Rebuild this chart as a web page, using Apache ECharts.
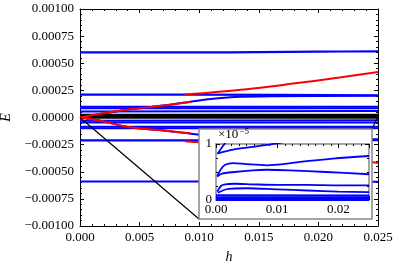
<!DOCTYPE html>
<html><head><meta charset="utf-8">
<script src="https://cdn.jsdelivr.net/npm/echarts@6/dist/echarts.min.js"></script>
<style>html,body{margin:0;padding:0;background:#fff}#c{width:398px;height:265px}</style>
</head><body><div id="c"></div>
<script>
// ---------- main panel data: [h, E in units of 1e-4] ----------
const xTicksMain = [0, 0.005, 0.010, 0.015, 0.020, 0.025];
const yTicksMain = [-10, -7.5, -5, -2.5, 0, 2.5, 5, 7.5, 10];
const bluePos6 = [[0, 6.0], [0.005, 6.0], [0.010, 6.0], [0.015, 6.03], [0.020, 6.07], [0.025, 6.1]];
const blueNeg6 = [[0, -5.9], [0.010, -5.9], [0.025, -5.92]];
const bluePos2 = [[0, 2.1], [0.010, 2.1], [0.025, 2.05]];
const blueNeg2 = [[0, -2.1], [0.010, -2.1], [0.025, -2.08]];
const blueSlantPos = [[0, 0], [0.0014, 0.25], [0.0042, 0.75], [0.007, 1.1], [0.0093, 1.46], [0.011, 1.7], [0.013, 1.88], [0.016, 1.96], [0.025, 2.0]];
const blueSlantNeg = [[0, 0], [0.0014, -0.23], [0.0042, -0.9], [0.007, -1.2], [0.0093, -1.5], [0.011, -1.7], [0.013, -1.85], [0.016, -1.95], [0.025, -2.0]];
const blueFlat1 = [[0, 1.0], [0.025, 1.0]];
const blueFlat2 = [[0, 0.85], [0.025, 0.85]];
const blueFlat3 = [[0, 0.55], [0.025, 0.6]];
const blueFlat4 = [[0, -0.3], [0.025, -0.25]];
const blueFlat5 = [[0, -0.45], [0.025, -0.45]];
const blueFlat6 = [[0, -0.85], [0.025, -0.85]];
const blueFlat7 = [[0, -1.0], [0.025, -1.0]];
const blackBand = [[0, 0.12], [0.025, 0.12]];
const redPosA = [[0, 0], [0.0014, 0.3], [0.0042, 0.75], [0.007, 1.1], [0.0093, 1.46]];
const redPosB = [[0.0088, 2.1], [0.0135, 2.55], [0.0177, 3.1], [0.0219, 3.7], [0.025, 4.2]];
const redNegA = [[0, 0], [0.0014, -0.23], [0.0042, -0.9], [0.007, -1.2], [0.0093, -1.46]];
const redNegB = [[0.0088, -2.2], [0.0135, -2.6], [0.0177, -3.1], [0.0219, -3.7], [0.025, -4.2]];

// ---------- inset data: [h, E in units of 1e-5] ----------
const inC1 = [[0.0002, 0.83], [0.0028, 0.9], [0.0061, 0.95], [0.0087, 0.99], [0.011, 1.03]];
const inC1b = [[0.0003, 0.83], [0.0009, 0.93], [0.0016, 1.03]];
const inC2 = [[0.0002, 0.42], [0.0008, 0.55], [0.0015, 0.63], [0.0028, 0.66], [0.005, 0.64], [0.0083, 0.62], [0.011, 0.64], [0.0137, 0.68], [0.0191, 0.74], [0.025, 0.786]];
const inC3 = [[0.0002, 0.42], [0.001, 0.47], [0.003, 0.5], [0.006, 0.53], [0.0083, 0.54], [0.012, 0.53], [0.018, 0.5], [0.025, 0.46]];
const inC4 = [[0.0002, 0.15], [0.0008, 0.25], [0.0015, 0.28], [0.003, 0.29], [0.006, 0.28], [0.01, 0.27], [0.015, 0.27], [0.02, 0.26], [0.025, 0.26]];
const inC5 = [[0.0003, 0.13], [0.002, 0.2], [0.005, 0.21], [0.01, 0.19], [0.015, 0.17], [0.02, 0.15], [0.025, 0.14]];
const inC6 = [[0, 0.085], [0.025, 0.08]];
const inC7 = [[0, 0.05], [0.025, 0.05]];
const inC8 = [[0, 0.02], [0.025, 0.02]];
const inC9 = [[0, 0.003], [0.025, 0.003]];
const xTicksInset = [0, 0.01, 0.02];
const yTicksInset = [0, 1];

// ---------- layout ----------
const FONT = 'Liberation Serif';
const INSET_BOX = {x: 199, y: 129, w: 173, h: 90};
const BLUE = '#0000ff', RED = '#ff0000';
const MAIN = 0, INSET = 2;

function ln(data, color, width, ai, z) {
  return {type: 'line', data: data, xAxisIndex: ai, yAxisIndex: ai, showSymbol: false, symbol: 'none',
    smooth: 0.3, lineStyle: {color: color, width: width}, z: z, silent: true, animation: false, clip: true};
}
const minus = s => s.replace('-', '\u2212');

const axisCommon = (z) => ({
  axisLine: {show: true, onZero: false, lineStyle: {color: '#000', width: 1}},
  axisTick: {show: true, inside: true, length: 4, lineStyle: {color: '#000', width: 1}},
  minorTick: {show: true, splitNumber: 5, length: 2, lineStyle: {color: '#000', width: 1}},
  splitLine: {show: false}, minorSplitLine: {show: false}, z: z
});

const chart = echarts.init(document.getElementById('c'), null, {renderer: 'canvas'});
const insetGray = '#888';
const opt = {
  animation: false,
  backgroundColor: '#fff',
  grid: [
    {left: 80, top: 9, right: 20, bottom: 39, containLabel: false, outerBoundsMode: 'none'},
    {left: 216, top: 144, width: 153, height: 56, containLabel: false, outerBoundsMode: 'none', z: 5}
  ],
  xAxis: [
    Object.assign(axisCommon(0), {type: 'value', gridIndex: 0, min: 0, max: 0.025, interval: 0.005, position: 'bottom',
      name: 'h', nameLocation: 'middle', nameGap: 24,
      nameTextStyle: {fontFamily: FONT, fontStyle: 'italic', fontSize: 14, color: '#000'},
      axisLabel: {fontFamily: FONT, fontSize: 13, color: '#000', margin: 5,
        formatter: v => xTicksMain.some(t => Math.abs(t - v) < 1e-9) ? v.toFixed(3) : ''}}),
    Object.assign(axisCommon(0), {type: 'value', gridIndex: 0, min: 0, max: 0.025, interval: 0.005, position: 'top',
      axisLabel: {show: false}}),
    Object.assign(axisCommon(6), {type: 'value', gridIndex: 1, min: 0, max: 0.025, interval: 0.01, position: 'bottom',
      axisLine: {show: true, onZero: false, lineStyle: {color: insetGray, width: 1.5}},
      minorTick: {show: true, splitNumber: 8, length: 2, lineStyle: {color: '#000', width: 1}},
      axisLabel: {fontFamily: FONT, fontSize: 13, color: '#000', margin: 3, showMaxLabel: false,
        formatter: v => xTicksInset.some(t => Math.abs(t - v) < 1e-9) ? v.toFixed(2) : ''}}),
    Object.assign(axisCommon(6), {type: 'value', gridIndex: 1, min: 0, max: 0.025, interval: 0.01, position: 'top',
      axisLine: {show: true, onZero: false, lineStyle: {color: insetGray, width: 1.5}},
      minorTick: {show: true, splitNumber: 8, length: 2, lineStyle: {color: '#000', width: 1}},
      axisLabel: {show: false}})
  ],
  yAxis: [
    Object.assign(axisCommon(0), {type: 'value', gridIndex: 0, min: -10, max: 10, interval: 2.5, position: 'left',
      name: 'E', nameLocation: 'middle', nameGap: 66, nameRotate: 90,
      nameTextStyle: {fontFamily: FONT, fontStyle: 'italic', fontSize: 14, color: '#000'},
      axisLabel: {fontFamily: FONT, fontSize: 13, color: '#000', margin: 6,
        formatter: v => yTicksMain.some(t => Math.abs(t - v) < 1e-9) ? minus((v * 1e-4).toFixed(5)) : ''}}),
    Object.assign(axisCommon(0), {type: 'value', gridIndex: 0, min: -10, max: 10, interval: 2.5, position: 'right',
      axisLabel: {show: false}}),
    Object.assign(axisCommon(6), {type: 'value', gridIndex: 1, min: 0, max: 1, interval: 1, position: 'left',
      axisLine: {show: true, onZero: false, lineStyle: {color: insetGray, width: 1.5}},
      minorTick: {show: true, splitNumber: 4, length: 2, lineStyle: {color: '#000', width: 1}},
      axisLabel: {fontFamily: FONT, fontSize: 13, color: '#000', margin: 4,
        formatter: v => yTicksInset.includes(v) ? String(v) : ''}}),
    Object.assign(axisCommon(6), {type: 'value', gridIndex: 1, min: 0, max: 1, interval: 1, position: 'right',
      axisLine: {show: true, onZero: false, lineStyle: {color: insetGray, width: 1.5}},
      minorTick: {show: true, splitNumber: 4, length: 2, lineStyle: {color: '#000', width: 1}},
      axisLabel: {show: false}})
  ],
  series: [
    ln(bluePos6, BLUE, 2.2, MAIN, 2), ln(blueNeg6, BLUE, 2.2, MAIN, 2),
    ln(bluePos2, BLUE, 2.2, MAIN, 2), ln(blueNeg2, BLUE, 2.2, MAIN, 2),
    ln(blueFlat1, BLUE, 2, MAIN, 2), ln(blueFlat2, BLUE, 2, MAIN, 2), ln(blueFlat3, BLUE, 2, MAIN, 2),
    ln(blueFlat4, BLUE, 2, MAIN, 2), ln(blueFlat5, BLUE, 2, MAIN, 2), ln(blueFlat6, BLUE, 2, MAIN, 2), ln(blueFlat7, BLUE, 2, MAIN, 2),
    ln(blueSlantPos, BLUE, 2, MAIN, 2), ln(blueSlantNeg, BLUE, 2, MAIN, 2),
    ln(blackBand, '#000', 5, MAIN, 2),
    ln(redPosA, RED, 2, MAIN, 2), ln(redPosB, RED, 2, MAIN, 2),
    ln(redNegA, RED, 2, MAIN, 2), ln(redNegB, RED, 2, MAIN, 2),
    ln(inC1, BLUE, 1.8, INSET, 7), ln(inC1b, BLUE, 1.8, INSET, 7), ln(inC2, BLUE, 1.8, INSET, 7), ln(inC3, BLUE, 1.8, INSET, 7),
    ln(inC4, BLUE, 1.8, INSET, 7), ln(inC5, BLUE, 1.8, INSET, 7), ln(inC6, BLUE, 1.8, INSET, 7), ln(inC7, BLUE, 1.8, INSET, 7),
    ln(inC8, BLUE, 2.2, INSET, 7), ln(inC9, BLUE, 2.2, INSET, 7)
  ]
};
chart.setOption(opt);

// connector lines (zoom indicator) from the zoomed region in the main panel to the inset box
const p0 = chart.convertToPixel({gridIndex: 0}, [0, 0]);
const p1 = chart.convertToPixel({gridIndex: 0}, [0.025, 0.1]);
chart.setOption({
  graphic: [
    {type: 'line', z: 3, silent: true, shape: {x1: p0[0], y1: p0[1], x2: INSET_BOX.x, y2: INSET_BOX.y + INSET_BOX.h},
      style: {stroke: '#000', lineWidth: 1.2}},
    {type: 'line', z: 3, silent: true, shape: {x1: p1[0], y1: p1[1], x2: INSET_BOX.x + INSET_BOX.w, y2: INSET_BOX.y},
      style: {stroke: '#000', lineWidth: 1.2}},
    {type: 'rect', z: 4, silent: true, shape: {x: INSET_BOX.x, y: INSET_BOX.y, width: INSET_BOX.w, height: INSET_BOX.h},
      style: {fill: '#fff', stroke: insetGray, lineWidth: 1.5}},
    {type: 'text', z: 8, silent: true, x: 218, y: 127,
      style: {text: '{a|\u00d710}{b|\u22125}', rich: {
        a: {fontFamily: FONT, fontSize: 13, fill: '#000', verticalAlign: 'bottom', lineHeight: 14},
        b: {fontFamily: FONT, fontSize: 9, fill: '#000', verticalAlign: 'top', lineHeight: 10, padding: [0, 0, 6, 1]}}}}
  ]
});
</script>
</body></html>
